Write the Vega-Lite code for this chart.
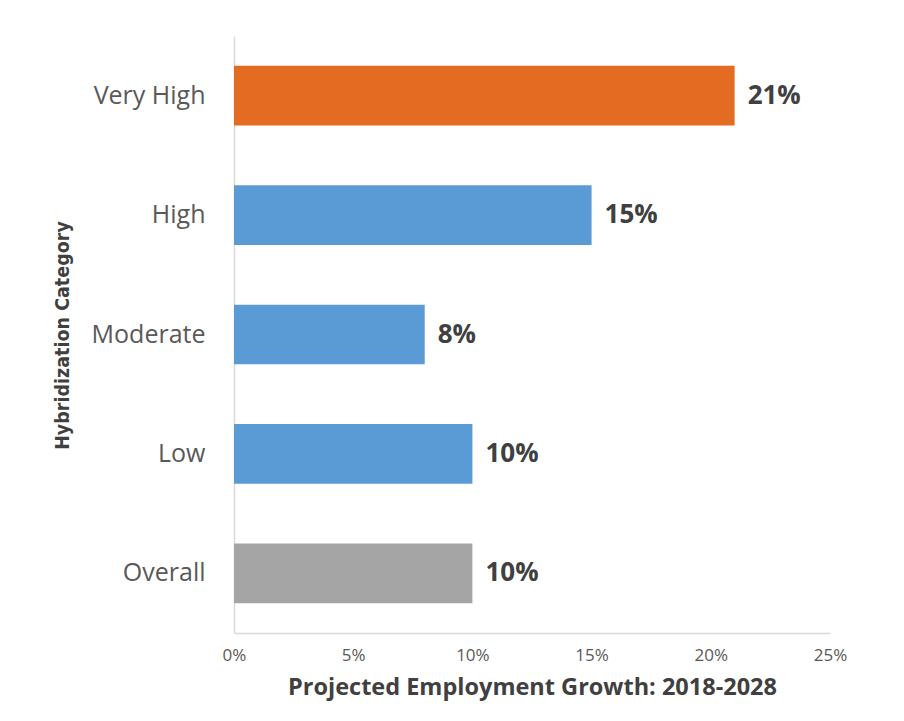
{
  "$schema": "https://vega.github.io/schema/vega-lite/v6.json",
  "autosize": "none",
  "width": 596,
  "height": 597,
  "padding": {"left": 234, "top": 36, "right": 74, "bottom": 88},
  "background": "white",
  "config": {
    "view": {"stroke": null},
    "font": "Open Sans",
    "axis": {"grid": false, "ticks": false, "domainColor": "#d9d9d9", "domainWidth": 1.5}
  },
  "data": {
    "values": [
      {"category": "Very High", "growth": 0.21, "label": "21%", "group": "veryhigh"},
      {"category": "High", "growth": 0.15, "label": "15%", "group": "hybrid"},
      {"category": "Moderate", "growth": 0.08, "label": "8%", "group": "hybrid"},
      {"category": "Low", "growth": 0.10, "label": "10%", "group": "hybrid"},
      {"category": "Overall", "growth": 0.10, "label": "10%", "group": "overall"}
    ]
  },
  "encoding": {
    "y": {
      "field": "category",
      "type": "nominal",
      "sort": null,
      "scale": {"paddingInner": 0.5, "paddingOuter": 0.25},
      "axis": {
        "title": "Hybridization Category",
        "titleFont": "DejaVu Sans Condensed, Open Sans",
        "titleFontSize": 19.5,
        "titleFontWeight": "bold",
        "titleColor": "#404040",
        "titleX": -172,
        "titleY": 299,
        "titleAngle": -90,
        "titleBaseline": "middle",
        "labelFontSize": 25,
        "labelColor": "#595959",
        "labelPadding": 29
      }
    },
    "x": {
      "field": "growth",
      "type": "quantitative",
      "scale": {"domain": [0, 0.25], "nice": false},
      "axis": {
        "title": "Projected Employment Growth: 2018-2028",
        "titleFontSize": 23.5,
        "titleFontWeight": "bold",
        "titleColor": "#404040",
        "titleY": 61,
        "titleBaseline": "alphabetic",
        "format": ".0%",
        "values": [0, 0.05, 0.1, 0.15, 0.2, 0.25],
        "labelFontSize": 17,
        "labelColor": "#595959",
        "labelPadding": 14,
        "labelFlush": false
      }
    }
  },
  "layer": [
    {
      "mark": {"type": "bar"},
      "encoding": {
        "color": {
          "field": "group",
          "type": "nominal",
          "scale": {"domain": ["veryhigh", "hybrid", "overall"], "range": ["#E46C22", "#5B9BD5", "#A5A5A5"]},
          "legend": null
        }
      }
    },
    {
      "mark": {"type": "text", "align": "left", "baseline": "middle", "dx": 13, "fontSize": 26, "fontWeight": "bold", "color": "#404040"},
      "encoding": {"text": {"field": "label"}}
    }
  ]
}
